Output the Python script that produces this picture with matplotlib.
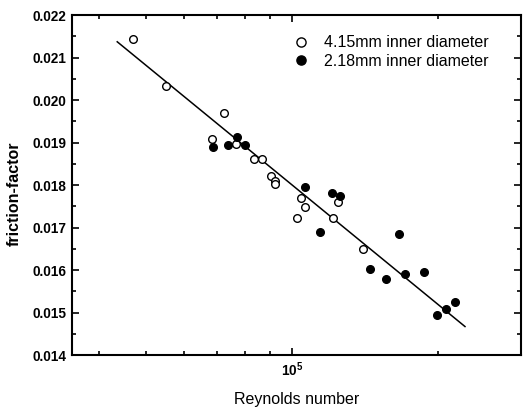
import numpy as np
import matplotlib
matplotlib.use("Agg")
import matplotlib.pyplot as plt
from matplotlib.ticker import LogLocator, NullFormatter, FixedFormatter, FixedLocator, MultipleLocator

plt.rcParams['font.family'] = ['Liberation Sans', 'DejaVu Sans']
plt.rcParams['mathtext.fontset'] = 'custom'
plt.rcParams['mathtext.rm'] = 'Liberation Sans:bold'
plt.rcParams['mathtext.bf'] = 'Liberation Sans:bold'

# 4.15mm tube (open circles)
re_415 = [46940, 55080, 72390, 68320, 76650, 83600, 86850, 90520, 92380, 92110,
          104610, 106310, 102260, 124210, 121300, 140290]
f_415 = [0.02143, 0.02034, 0.01969, 0.01908, 0.01897, 0.01861, 0.01862, 0.01821,
         0.01809, 0.01802, 0.01770, 0.01748, 0.01722, 0.01761, 0.01723, 0.01649]

# 2.18mm tube (filled circles)
re_218 = [68640, 73900, 76900, 80000, 106560, 114220, 120720, 125570, 166200,
          144800, 156100, 170800, 187200, 199300, 207700, 217100]
f_218 = [0.01890, 0.01895, 0.01913, 0.01893, 0.01795, 0.01690, 0.01781, 0.01774,
         0.01684, 0.01602, 0.01580, 0.01591, 0.01595, 0.01493, 0.01509, 0.01524]

# fitted line, end points
re_fit = [43630, 227300]
f_fit = [0.02137, 0.01467]

fig = plt.figure(figsize=(5.23, 4.09), dpi=100)
ax = fig.add_axes([0.137, 0.132, 0.8586, 0.8313])

ax.plot(re_fit, f_fit, color='black', lw=1.1, zorder=2)
ax.plot(re_415, f_415, 'o', ms=5.5, mfc='white', mec='black', mew=1.0,
        label='4.15mm inner diameter', zorder=3)
ax.plot(re_218, f_218, 'o', ms=5.5, mfc='black', mec='black', mew=1.0,
        label='2.18mm inner diameter', zorder=3)

ax.set_xscale('log')
ax.set_xlim(35140, 296100)
ax.set_ylim(0.014, 0.022)

ax.xaxis.set_major_locator(FixedLocator([1e5]))
ax.xaxis.set_major_formatter(FixedFormatter([r'$\mathbf{10^{5}}$']))
ax.xaxis.set_minor_locator(LogLocator(base=10, subs=np.arange(2, 10)))
ax.xaxis.set_minor_formatter(NullFormatter())
ax.yaxis.set_major_locator(MultipleLocator(0.001))
ax.yaxis.set_minor_locator(MultipleLocator(0.0005))
ax.yaxis.set_major_formatter(plt.FuncFormatter(lambda v, p: '%.3f' % v))

ax.tick_params(which='both', direction='in', top=True, right=True, width=1.2)
ax.tick_params(which='major', length=5, pad=4)
ax.tick_params(which='minor', length=3)
for lab in ax.get_yticklabels():
    lab.set_fontweight('bold')
    lab.set_fontsize(9.8)
for lab in ax.get_xticklabels():
    lab.set_fontsize(9.8)
for sp in ax.spines.values():
    sp.set_linewidth(1.5)

ax.set_xlabel('Reynolds number', fontsize=11.5, labelpad=9)
ax.set_ylabel('friction-factor', fontsize=11.5, fontweight='bold')
ax.yaxis.set_label_coords(-0.112, 0.475)

ax.legend(loc='upper left', bbox_to_anchor=(0.492, 0.94), frameon=False,
          fontsize=11.5, handlelength=1.0, handletextpad=0.95, borderpad=0,
          borderaxespad=0, labelspacing=0.2, markerscale=1.2)

fig.savefig('out.png', dpi=100)
